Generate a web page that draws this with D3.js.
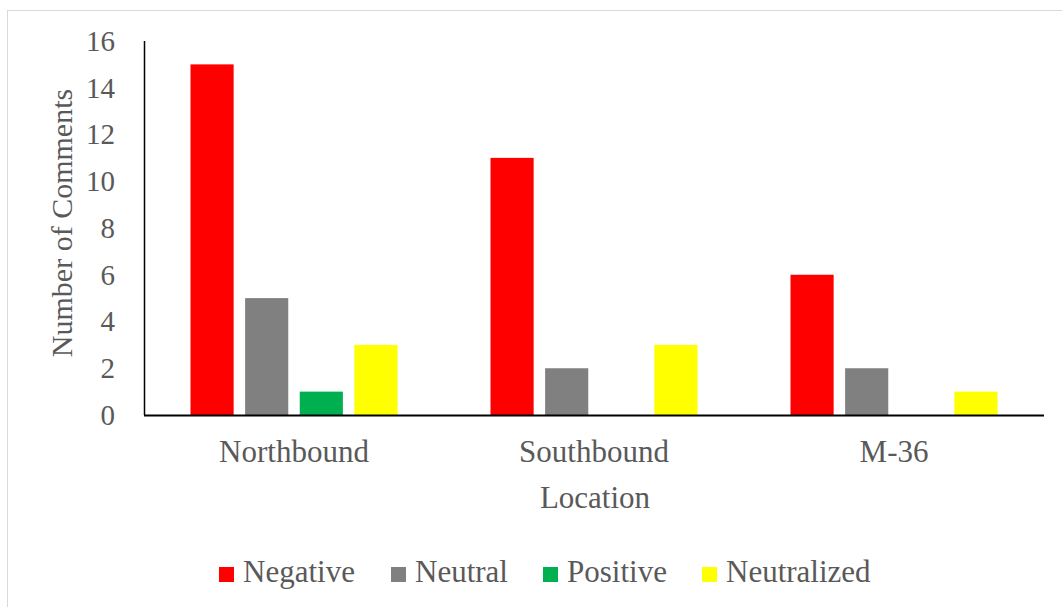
<!DOCTYPE html>
<html><head><meta charset="utf-8">
<script src="https://cdn.jsdelivr.net/npm/d3@7"></script>
<style>body{margin:0;background:#fff}svg{display:block}</style>
</head><body>
<svg id="c" width="1062" height="607"></svg>
<script>
const categories = ["Northbound", "Southbound", "M-36"];
const seriesNames = ["Negative", "Neutral", "Positive", "Neutralized"];
const negative = [15, 11, 6];
const neutral = [5, 2, 2];
const positive = [1, 0, 0];
const neutralized = [3, 3, 1];
const yTicks = [0, 2, 4, 6, 8, 10, 12, 14, 16];
const colors = ["#FF0000", "#808080", "#00B050", "#FFFF00"];
const seriesValues = [negative, neutral, positive, neutralized];

(function () {
const svg = d3.select("#c");
const font = "'Liberation Serif','Times New Roman',serif";
const txt = "#595959";

svg.append("rect").attr("x", 7.5).attr("y", 10.5).attr("width", 1100).attr("height", 700)
  .attr("fill", "#fff").attr("stroke", "#d9d9d9").attr("stroke-width", 1);

const pL = 144, pR = 1044, pT = 41, pB = 415;
const x0 = d3.scaleBand().domain(categories).range([pL, pR]).padding(0);
const x1 = d3.scaleBand().domain(seriesNames).range([46.5, 253.5]).paddingInner(0.21).paddingOuter(0);
const y = d3.scaleLinear().domain([0, 16]).range([pB, pT]);

const groups = svg.append("g").selectAll("g").data(categories).join("g")
  .attr("transform", d => `translate(${x0(d)},0)`);
groups.selectAll("rect").data((d, i) => seriesNames.map((s, j) => ({s, v: seriesValues[j][i], c: colors[j]})))
  .join("rect")
  .attr("x", d => x1(d.s)).attr("width", x1.bandwidth())
  .attr("y", d => y(d.v)).attr("height", d => y(0) - y(d.v))
  .attr("fill", d => d.c);

const ya = svg.append("g").attr("transform", `translate(${pL},0)`)
  .call(d3.axisLeft(y).tickValues(yTicks).tickSize(0).tickPadding(29).tickFormat(d3.format("d")));
ya.select(".domain").attr("stroke", "#000").attr("stroke-width", 1.5).attr("d", `M0.5,${pT}V${pB}`);
ya.selectAll("text").attr("font-family", font).attr("font-size", 29).attr("fill", txt);

const xa = svg.append("g").attr("transform", `translate(0,${pB})`)
  .call(d3.axisBottom(x0).tickSize(0).tickPadding(25));
xa.select(".domain").attr("stroke", "#000").attr("stroke-width", 2).attr("d", `M${pL},0.5H${pR}`);
xa.selectAll("text").attr("font-family", font).attr("font-size", 31).attr("fill", txt);

svg.append("text").attr("transform", "translate(72,223) rotate(-90)").attr("text-anchor", "middle")
  .attr("font-family", font).attr("font-size", 30).attr("fill", txt).text("Number of Comments");
svg.append("text").attr("x", 595).attr("y", 508).attr("text-anchor", "middle")
  .attr("font-family", font).attr("font-size", 31).attr("fill", txt).text("Location");

const legX = [219, 391, 543, 702];
const leg = svg.append("g").selectAll("g").data(seriesNames).join("g")
  .attr("transform", (d, i) => `translate(${legX[i]},0)`);
leg.append("rect").attr("x", 0).attr("y", 567).attr("width", 15).attr("height", 15)
  .attr("fill", (d, i) => colors[i]);
leg.append("text").attr("x", 24).attr("y", 582).attr("font-family", font).attr("font-size", 31)
  .attr("fill", txt).text(d => d);
})();
</script>
</body></html>
